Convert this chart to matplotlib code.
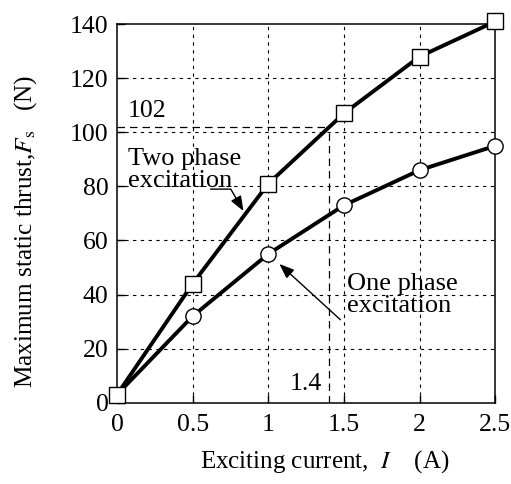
import matplotlib
matplotlib.use("Agg")
import matplotlib.pyplot as plt

# exciting current (A)
current = [0, 0.5, 1, 1.5, 2, 2.5]
# maximum static thrust (N)
two_phase = [3, 44, 81, 107, 128, 141]
one_phase = [3, 32, 55, 73, 86, 95]

x_ticks = [0, 0.5, 1, 1.5, 2, 2.5]
x_ticklabels = ["0", "0.5", "1", "1.5", "2", "2.5"]
y_ticks = [0, 20, 40, 60, 80, 100, 120, 140]

mark_current = 1.4
mark_thrust = 102

plt.rcParams["font.family"] = ["Liberation Serif", "DejaVu Serif"]
plt.rcParams["mathtext.fontset"] = "stix"

fig = plt.figure(figsize=(5.11, 4.84), dpi=100)
ax = fig.add_axes([0.229, 0.168, 0.740, 0.782])

# grid
for xv in x_ticks[1:-1]:
    ax.axvline(xv, color="black", lw=0.8, ls=(0, (3, 4)), zorder=1)
for yv in y_ticks[1:-1]:
    ax.axhline(yv, color="black", lw=0.8, ls=(0, (3, 4)), zorder=1)

# 102 N / 1.4 A guide lines
ax.plot([0, mark_current], [mark_thrust, mark_thrust], color="black", lw=0.9,
        ls=(0, (6, 4)), zorder=2)
ax.plot([mark_current, mark_current], [0, mark_thrust], color="black", lw=0.9,
        ls=(0, (6, 4)), zorder=2)

ax.plot(current, one_phase, color="black", lw=2.8, marker="o", markersize=11,
        markerfacecolor="white", markeredgecolor="black", markeredgewidth=1.0,
        markevery=[1, 2, 3, 4, 5], zorder=3, clip_on=False)
ax.plot(current, two_phase, color="black", lw=2.8, marker="s", markersize=12,
        markerfacecolor="white", markeredgecolor="black", markeredgewidth=1.0,
        zorder=4, clip_on=False)

ax.set_xlim(0, 2.5)
ax.set_ylim(0, 140)
ax.set_xticks(x_ticks)
ax.set_xticklabels(x_ticklabels)
ax.set_yticks(y_ticks)
ax.tick_params(direction="in", length=6, width=1, labelsize=18.5, pad=6)
ax.tick_params(axis="x", pad=8)
for s in ax.spines.values():
    s.set_linewidth(1.1)

ax.set_xlabel(r"Exciting current,  $\mathit{I}$    (A)", fontsize=18, va="center")
ax.xaxis.set_label_coords(0.548, -0.156)
ax.set_ylabel(r"Maximum static thrust,$\mathit{F}_\mathrm{s}$   (N)", fontsize=18.2,
              va="center")
ax.yaxis.set_label_coords(-0.243, 0.454)

ax.text(0.07, 108, str(mark_thrust), fontsize=18.5, ha="left", va="center")
ax.text(1.14, 7, str(mark_current), fontsize=18.5, ha="left", va="center")

ax.text(0.07, 86, "Two phase\nexcitation", fontsize=19, ha="left", va="center",
        linespacing=1.0)
ax.annotate("", xy=(0.845, 70), xytext=(0.60, 79),
            arrowprops=dict(arrowstyle="-|>,head_length=0.9,head_width=0.35",
                            color="black", lw=1.0,
                            connectionstyle="angle,angleA=0,angleB=120,rad=0"))

ax.text(1.52, 40, "One phase\nexcitation", fontsize=19, ha="left", va="center",
        linespacing=1.0)
ax.annotate("", xy=(1.06, 52), xytext=(1.49, 30),
            arrowprops=dict(arrowstyle="-|>,head_length=0.9,head_width=0.35",
                            color="black", lw=1.0))

fig.savefig("out.png", dpi=100)
